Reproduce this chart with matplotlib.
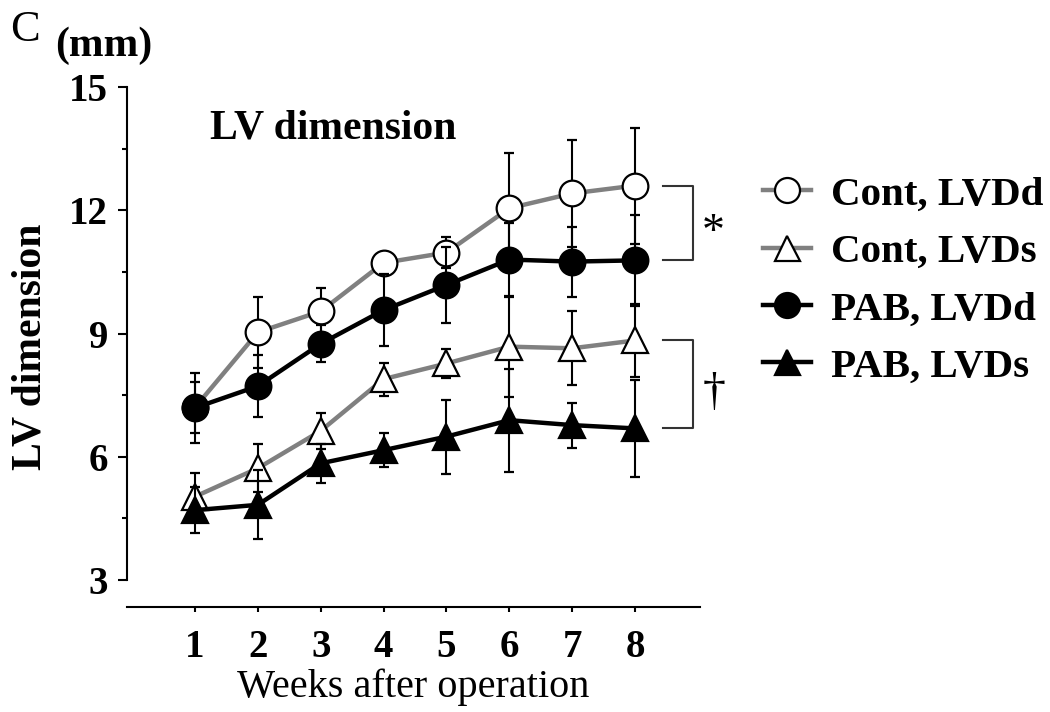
import matplotlib
matplotlib.use("Agg")
import matplotlib.pyplot as plt
from matplotlib.lines import Line2D

plt.rcParams['font.family'] = ['Liberation Serif', 'DejaVu Serif']

# ---------------- data ----------------
weeks = [1, 2, 3, 4, 5, 6, 7, 8]
cont_d = [7.20, 9.03, 9.54, 10.72, 10.97, 12.05, 12.41, 12.60]
cont_d_err = [0.62, 0.86, 0.57, 0.25, 0.38, 1.34, 1.30, 1.41]
cont_s = [5.03, 5.72, 6.63, 7.89, 8.27, 8.68, 8.64, 8.83]
cont_s_err = [0.58, 0.59, 0.43, 0.40, 0.36, 1.22, 0.90, 0.90]
pab_d = [7.19, 7.72, 8.75, 9.57, 10.18, 10.80, 10.75, 10.78]
pab_d_err = [0.86, 0.76, 0.45, 0.88, 0.93, 0.88, 0.85, 1.10]
pab_s = [4.70, 4.83, 5.84, 6.16, 6.49, 6.89, 6.77, 6.69]
pab_s_err = [0.56, 0.84, 0.47, 0.42, 0.90, 1.25, 0.55, 1.18]

labels = ['Cont, LVDd', 'Cont, LVDs', 'PAB, LVDd', 'PAB, LVDs']
yticks = [3, 6, 9, 12, 15]
yminor = [4.5, 7.5, 10.5, 13.5]

# ---------------- figure ----------------
fig = plt.figure(figsize=(10.5, 7.12), dpi=100)
ax = fig.add_axes([127/1050, (712-607)/712, (700-127)/1050, (607-87)/712])

gray = '#808080'
series = [
    (cont_d, cont_d_err, gray, 'o', 'white', 2),
    (cont_s, cont_s_err, gray, '^', 'white', 3),
    (pab_d, pab_d_err, 'black', 'o', 'black', 4),
    (pab_s, pab_s_err, 'black', '^', 'black', 5),
]
handles = []
for (vals, errs, lc, mk, fc, z), lab in zip(series, labels):
    ax.errorbar(weeks, vals, yerr=errs, color=lc, lw=3.2, marker=mk,
                markersize=18.5, markerfacecolor=fc, markeredgecolor='black',
                markeredgewidth=1.6, ecolor='black', elinewidth=1.5,
                capsize=3.8, capthick=1.6, zorder=z, clip_on=False)
    handles.append(Line2D([], [], color=lc, lw=3.2, marker=mk, markersize=18,
                          markerfacecolor=fc, markeredgecolor='black',
                          markeredgewidth=1.6))

ybot = 3 - (607 - 580) / (493 / 12)
ax.set_ylim(ybot, 15)
x_left = 1 - (195 - 127) / (440 / 7)
x_right = 8 + (700 - 635) / (440 / 7)
ax.set_xlim(x_left, x_right)

for s in ['top', 'right']:
    ax.spines[s].set_visible(False)
ax.spines['left'].set_bounds(3, 15)
ax.spines['left'].set_linewidth(1.5)
ax.spines['bottom'].set_linewidth(1.5)

ax.set_yticks(yticks)
ax.set_yticks(yminor, minor=True)
ax.set_xticks(weeks)
ax.tick_params(axis='y', which='major', length=6.5, width=1.5, pad=7,
               labelsize=28)
ax.tick_params(axis='y', which='minor', length=3.6, width=1.5)
ax.tick_params(axis='x', which='major', length=3.5, width=1.5, pad=12,
               labelsize=28)
for t in ax.get_xticklabels() + ax.get_yticklabels():
    t.set_fontweight('bold')

ax.set_xlabel('Weeks after operation', fontsize=29, labelpad=2)
ax.set_ylabel('LV dimension', fontsize=30, fontweight='bold', labelpad=14)

ax.text(0.145, 0.92, 'LV dimension', transform=ax.transAxes, fontsize=30,
        fontweight='bold', ha='left', va='center')

# significance brackets
bx0, bx1 = 8.445, 8.92
for top, bot, sym, dy in [(cont_d[-1], pab_d[-1], '*', -0.25),
                          (cont_s[-1], pab_s[-1], '\u2020', -0.22)]:
    ax.plot([bx0, bx1, bx1, bx0], [top, top, bot, bot], color='#333333',
            lw=1.5, clip_on=False, zorder=1)
    ax.text(9.25, (top + bot) / 2 + dy, sym, fontsize=33, ha='center',
            va='center', clip_on=False)

leg = ax.legend(handles, labels, loc='upper left',
                bbox_to_anchor=(763/1050, 1 - 176/712),
                bbox_transform=fig.transFigure, frameon=False,
                prop={'size': 29.5, 'weight': 'bold'}, handlelength=1.17,
                handletextpad=0.5, labelspacing=0.48, borderpad=0,
                borderaxespad=0)

fig.text(10/1050, 1 - 30/712, 'C', fontsize=32, ha='left', va='center')
fig.text(55/1050, 1 - 46/712, '(mm)', fontsize=30, fontweight='bold',
         ha='left', va='center')

fig.savefig('out.png', dpi=100)
